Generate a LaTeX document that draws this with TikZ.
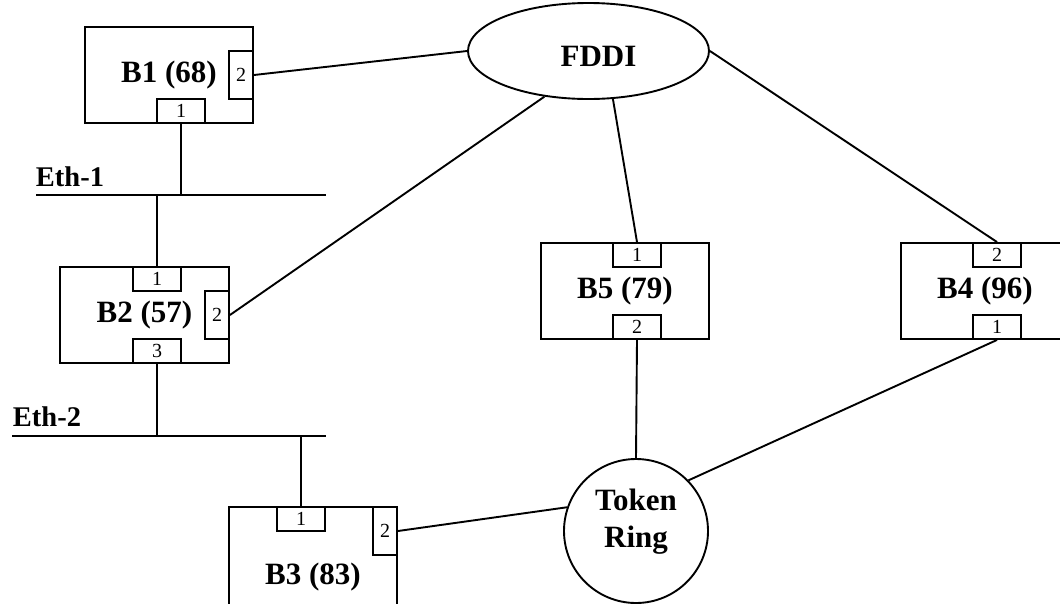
\documentclass[tikz,border=0pt]{standalone}
\usepackage{fontspec}
\setmainfont{Liberation Serif}
\usetikzlibrary{shapes.geometric}

\begin{document}
\begin{tikzpicture}[x=1pt,y=-1pt, line width=1.9pt,
  bridge/.style={draw, rectangle, inner sep=0pt, minimum width=168pt, minimum height=96pt,
    font=\bfseries\fontsize{31}{37}\selectfont},
  hport/.style={draw, fill=white, rectangle, inner sep=0pt, minimum width=48pt, minimum height=24pt,
    font=\fontsize{20}{22}\selectfont},
  vport/.style={hport, minimum width=24pt, minimum height=48pt},
  lbl/.style={font=\bfseries\fontsize{31}{37}\selectfont, inner sep=0pt},
  ethlbl/.style={font=\bfseries\fontsize{28.5}{30}\selectfont, inner sep=0pt, anchor=base west},
  link/.style={draw, line width=1.9pt}]
\useasboundingbox (0,0) rectangle (1060,603);
\clip (0,0) rectangle (1060,603);

% networks
\node[draw, ellipse, minimum width=241pt, minimum height=96pt, inner sep=0pt,
  label={[lbl, xshift=10pt, yshift=-5pt]center:FDDI}] (fddi) at (588.5,51) {};
\node[draw, circle, minimum size=144pt, inner sep=0pt,
  label={[lbl, align=center, yshift=9pt]center:Token\\Ring}] (tr) at (636,531) {};

% Ethernet buses
\coordinate (e1l) at (36,195);  \coordinate (e1r) at (326,195);
\coordinate (e1a) at (181,195); \coordinate (e1b) at (157,195);
\coordinate (e2l) at (12,436);  \coordinate (e2r) at (326,436);
\coordinate (e2a) at (157,436); \coordinate (e2b) at (301,436);
\draw[link] (e1l) -- (e1r);
\draw[link] (e2l) -- (e2r);
\node[ethlbl] (eth1) at (35,186) {Eth-1};
\node[ethlbl] (eth2) at (12,426) {Eth-2};

% bridges
\node[bridge] (b1) at (169,75) {B1 (68)};
\node[bridge, minimum width=169pt] (b2) at (144.5,315) {B2 (57)};
\node[bridge, minimum height=140pt] (b3) at (313,577) {B3 (83)};
\node[bridge] (b5) at (625,291) {B5 (79)};
\node[bridge] (b4) at (985,291) {B4 (96)};

% ports
\node[vport] (b1p2) at (241,75) {2};
\node[hport] (b1p1) at (181,111) {1};
\node[hport] (b2p1) at (157,279) {1};
\node[vport] (b2p2) at (217,315) {2};
\node[hport] (b2p3) at (157,351) {3};
\node[hport] (b3p1) at (301,519) {1};
\node[vport] (b3p2) at (385,531) {2};
\node[hport] (b5p1) at (637,255) {1};
\node[hport] (b5p2) at (637,327) {2};
\node[hport] (b4p2) at (997,255) {2};
\node[hport] (b4p1) at (997,327) {1};

% links
\draw[link] (b1p2.east) -- (fddi.west);
\draw[link] (b2p2.east) -- (fddi.226);
\draw[link] (fddi.297) -- (b5p1.north);
\draw[link] (fddi.east) -- (b4p2.north);
\draw[link] (b1p1.south) -- (e1a);
\draw[link] (e1b) -- (b2p1.north);
\draw[link] (b2p3.south) -- (e2a);
\draw[link] (e2b) -- (b3p1.north);
\draw[link] (b3p2.east) -- (tr.161);
\draw[link] (b5p2.south) -- (tr.north);
\draw[link] (b4p1.south) -- (tr.44);
\end{tikzpicture}
\end{document}
